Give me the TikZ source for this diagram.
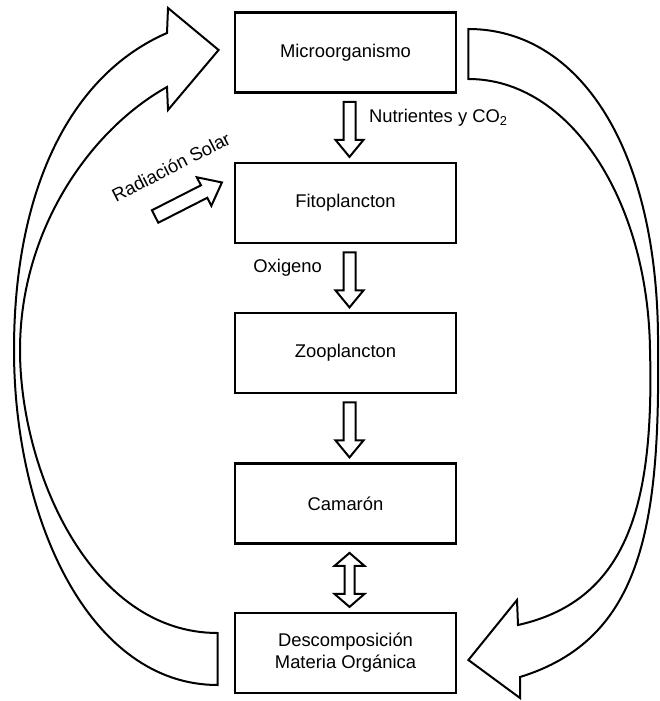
\documentclass[tikz,border=0pt]{standalone}
\usepackage{fontspec}
\setmainfont{Liberation Sans}
\usetikzlibrary{calc}

\tikzset{
  caja/.style={draw, line width=1.4pt, minimum width=110.5pt, minimum height=40pt,
    align=center, font=\fontsize{9.2}{11}\selectfont},
  etiqueta/.style={font=\fontsize{9.2}{11}\selectfont},
  flecha/.style={draw, line width=1pt, fill=white, line join=miter},
  abajo/.pic={\draw[flecha] (-6,0) -- (-6,38) -- (-14,38) -- (0,55) -- (14,38) -- (6,38) -- (6,0) -- cycle;},
  doble/.pic={\draw[flecha] (-5,13) -- (-15,13) -- (0,0) -- (15,13) -- (5,13) -- (5,41) -- (15,41) -- (0,54) -- (-15,41) -- (-5,41) -- cycle;},
  derecha/.pic={\draw[flecha] (0,-7) -- (55,-7) -- (55,-16) -- (75,0) -- (55,16) -- (55,7) -- (0,7) -- cycle;}
}

\begin{document}
\begin{tikzpicture}[x=0.5pt, y=-0.5pt]
\useasboundingbox (0,0) rectangle (659,701);
%\draw[gray!30] (0,0) grid[step=50] (659,701);

% cajas
\node[caja] (micro) at (345.5,52.5) {Microorganismo};
\node[caja] (fito) at (345.5,203) {Fitoplancton};
\node[caja] (zoo) at (345.5,353) {Zooplancton};
\node[caja] (cam) at (345.5,503.5) {Camar\'on};
\node[caja] (desc) at (345.5,653) {Descomposici\'on\\Materia Org\'anica};

% flechas entre cajas
\path ($(micro.south)+(4,8)$) pic {abajo};
\path ($(fito.south)+(4,8)$) pic {abajo};
\path ($(zoo.south)+(4,8)$) pic {abajo};
\path ($(cam.south)+(4,8)$) pic {doble};

\node[etiqueta, anchor=west] (nutri) at (362,118) {Nutrientes y CO\textsubscript{2}};
\node[etiqueta, anchor=east] (oxi) at (329,268) {Oxigeno};

% radiacion
\path ($(fito.west)+(-78.5,13.5)$) pic[rotate=27] {derecha};
\node[etiqueta, rotate=27] (rad) at (171,167) {Radiaci\'on Solar};

% flecha grande izquierda
\coordinate (colaI) at ($(desc.west)+(-16,6)$);
\coordinate (puntaI) at ($(micro.west)+(-15,-2.5)$);
\draw[flecha] (167,33) .. controls (70,75) and (14,190) .. (14,350)
  .. controls (14,520) and (90,685) .. ($(colaI)+(0,26)$) -- ($(colaI)+(0,-26)$)
  .. controls (90,633) and (20,470) .. (20,350)
  .. controls (20,230) and (90,130) .. (167,87)
  -- (168,110) -- (puntaI) -- (168,8) -- cycle;

% flecha grande derecha
\coordinate (colaD) at ($(micro.east)+(11,1.5)$);
\coordinate (puntaD) at ($(desc.east)+(11,7)$);
\draw[flecha] ($(colaD)+(0,-25)$) .. controls (580,29) and (660,150) .. (658,350)
  .. controls (660,530) and (640,640) .. (520,677)
  -- (520,698) -- (puntaD) -- (517,600) -- (518,625)
  .. controls (630,600) and (654,500) .. (650,350)
  .. controls (648,200) and (570,79) .. ($(colaD)+(0,25)$) -- cycle;
\end{tikzpicture}
\end{document}
